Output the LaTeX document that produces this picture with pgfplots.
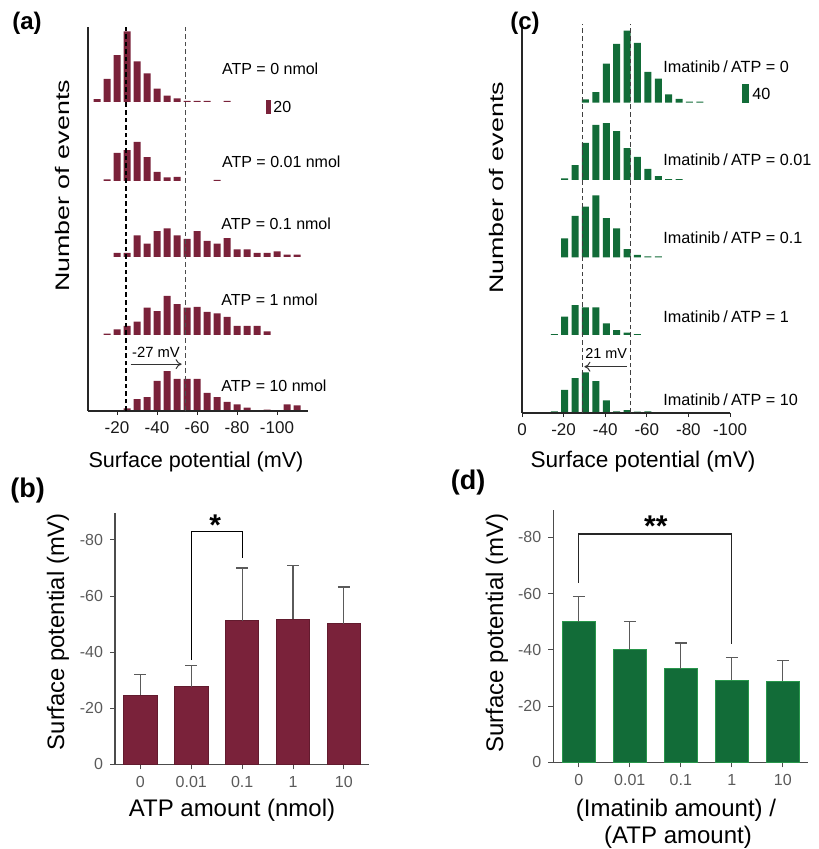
\documentclass[border=0pt]{standalone}
\usepackage{fontspec}
\setmainfont{Liberation Sans}
\usepackage{graphicx}
\usepackage{pgfplots}
\usepackage{pgfplotstable}
\pgfplotsset{compat=1.18}
\usetikzlibrary{arrows.meta}

\definecolor{wine}{RGB}{122,34,58}
\definecolor{leaf}{RGB}{18,108,56}
\definecolor{leafedge}{RGB}{40,150,75}
\definecolor{tickgray}{RGB}{90,90,90}
\newcommand{\fs}[1]{\fontsize{#1}{#1}\selectfont}

% (a) histograms: bin centre (mV), number of events
\pgfplotstableread{
mv n
-10 4
-15 33
-20 67
-25 101
-30 58
-35 41
-40 19
-45 9
-50 5
-55 1.5
-60 1.5
-65 1.5
-75 1.5
}\atpA
\pgfplotstableread{
mv n
-15 2.4
-20 40
-25 44
-30 56
-35 34
-40 13
-45 5
-50 6
-70 1.5
}\atpB
\pgfplotstableread{
mv n
-20 6
-25 6
-30 31
-35 19
-40 37
-45 41
-50 31
-55 26
-60 37
-65 23
-70 19
-75 27
-80 11
-85 11
-90 6
-95 6
-100 8
-105 3.3
-110 3.3
}\atpC
\pgfplotstableread{
mv n
-15 1.9
-20 8
-25 13
-30 19
-35 39
-40 34
-45 56
-50 44
-55 39
-60 40
-65 33
-70 31
-75 26
-80 13
-85 13
-90 13
-95 5
}\atpD
\pgfplotstableread{
mv n
-25 3.8
-30 17
-35 20
-40 43
-45 57
-50 46
-55 46
-60 46
-65 26
-70 20
-75 13
-80 9.5
-85 4.8
-95 1.9
-105 9.5
-110 8
}\atpE

% (c) histograms
\pgfplotstableread{
mv n
-30.5 7
-35.5 22
-40.5 81
-45.5 122
-50.5 149
-55.5 124
-60.5 64
-65.5 50
-70.5 17
-75.5 8
-80.5 2
-85.5 2
}\imaA
\pgfplotstableread{
mv n
-20.5 3.5
-25.5 31
-30.5 77
-35.5 114
-40.5 118
-45.5 101
-50.5 66
-55.5 48
-60.5 23
-65.5 8
-70.5 2
-75.5 2
}\imaB
\pgfplotstableread{
mv n
-20.5 39
-25.5 86
-30.5 105
-35.5 128
-40.5 81
-45.5 60
-50.5 17
-55.5 5
-60.5 2
-65.5 2
}\imaC
\pgfplotstableread{
mv n
-15.5 2
-20.5 38
-25.5 62
-30.5 57
-35.5 57
-40.5 24
-45.5 10
-50.5 5
-55.5 2
}\imaD
\pgfplotstableread{
mv n
-15.5 3.5
-20.5 48
-25.5 72
-30.5 84
-35.5 66
-40.5 26
-45.5 3.5
-50.5 6
-55.5 3
-60.5 3.5
}\imaE

% (b), (d) mean surface potential (mV) and SD
\pgfplotstableread{
cat v err
0 -24.7 7.3
1 -27.6 7.7
2 -51.2 18.8
3 -51.7 19.1
4 -50.2 13.0
}\barsB
\pgfplotstableread{
cat v err
0 -49.9 9.0
1 -40.0 10.0
2 -33.2 9.2
3 -29.1 8.2
4 -28.9 7.2
}\barsD

\pgfplotsset{
  hist/.style={scale only axis, hide axis, clip=false, anchor=south west,
    ybar, bar width=3.5pt, ymin=0, x filter/.expression={-x}},
  histA/.style={hist, x=1pt, y=0.35pt, xmin=5.5, xmax=115.5, ymax=110},
  histC/.style={hist, x=1.04pt, y=0.2415pt, xmin=0, xmax=100, ymax=160},
  frame/.style={scale only axis, anchor=south west, clip=false,
    ymin=0, ymax=1, ytick=\empty, x filter/.expression={-x},
    axis x line*=bottom, axis y line*=left,
    axis line style={line width=0.6pt, black!85},
    tick align=outside, major tick length=2pt,
    tick style={black!85, line width=0.5pt},
    xticklabel style={font=\fs{8.5}, text=black!90}},
  meanbars/.style={scale only axis, anchor=south west, clip=false,
    xmin=-0.5, xmax=4.5, ymin=0, ymax=89.7,
    axis x line*=bottom, axis y line*=left,
    axis line style={line width=0.6pt, black!70},
    tick align=outside, major tick length=2.5pt,
    tick style={black!70, line width=0.5pt},
    xtick={0,...,4}, xticklabels={0,0.01,0.1,1,10},
    ytick={0,20,40,60,80}, yticklabels={0,-20,-40,-60,-80},
    ticklabel style={font=\fs{8}, text=tickgray},
    ybar, bar width=16.7pt},
  errs/.style={error bars/.cd, y dir=plus, y explicit,
    error bar style={tickgray, line width=0.6pt},
    error mark options={tickgray, line width=0.6pt, mark size=3pt, rotate=90}},
}

\begin{document}
\begin{tikzpicture}
\useasboundingbox (0,0) rectangle (409pt,-424.5pt);

% ---------- (a)
\begin{axis}[histA, at={(44pt,-51pt)}]
\addplot[fill=wine, draw=none] table {\atpA};
\fill[wine] (axis cs:94.4,-17.1) rectangle (axis cs:96.9,2.9);
\end{axis}
\begin{axis}[histA, at={(44pt,-90.5pt)}]
\addplot[fill=wine, draw=none] table {\atpB};
\end{axis}
\begin{axis}[histA, at={(44pt,-128.5pt)}]
\addplot[fill=wine, draw=none] table {\atpC};
\end{axis}
\begin{axis}[histA, at={(44pt,-167.5pt)}]
\addplot[fill=wine, draw=none] table {\atpD};
\end{axis}
\begin{axis}[histA, at={(44pt,-205.5pt)}]
\addplot[fill=wine, draw=none] table {\atpE};
\end{axis}
\begin{axis}[frame, at={(44pt,-205.5pt)}, width=110pt, height=192pt,
  xmin=5.5, xmax=115.5, xtick={20,40,60,80,100},
  xticklabels={-20,-40,-60,-80,-100}]
\addplot[black, line width=0.7pt, dash pattern=on 2.3pt off 1.5pt]
  coordinates {(-24.5,0) (-24.5,1)};
\addplot[black!70, line width=0.45pt, dash pattern=on 2.3pt off 1.5pt]
  coordinates {(-54.3,0) (-54.3,1)};
\draw[-{To[length=3pt,width=5pt]}, black!80, line width=0.5pt]
  (axis cs:26.8,0.122) -- (axis cs:52.3,0.122);
\node[font=\fs{7.4}] at (axis cs:39.5,0.154) {-27 mV};
\end{axis}

% ---------- (c)
\begin{axis}[histC, at={(261pt,-51.35pt)}]
\addplot[fill=leaf, draw=none] table {\imaA};
\fill[leaf] (axis cs:105.8,-1.2) rectangle (axis cs:108.9,38.7);
\end{axis}
\begin{axis}[histC, at={(261pt,-90pt)}]
\addplot[fill=leaf, draw=none] table {\imaB};
\end{axis}
\begin{axis}[histC, at={(261pt,-128.65pt)}]
\addplot[fill=leaf, draw=none] table {\imaC};
\end{axis}
\begin{axis}[histC, at={(261pt,-167.5pt)}]
\addplot[fill=leaf, draw=none] table {\imaD};
\end{axis}
\begin{axis}[histC, at={(261pt,-206.5pt)}]
\addplot[fill=leaf, draw=none] table {\imaE};
\end{axis}
\begin{axis}[frame, at={(261pt,-206.5pt)}, width=104pt, height=194.5pt,
  xmin=0, xmax=100, xtick={0,20,40,60,80,100},
  xticklabels={0,-20,-40,-60,-80,-100}]
\addplot[black!75, line width=0.5pt, dash pattern=on 2.3pt off 1.5pt]
  coordinates {(-29,0) (-29,1)};
\addplot[black!75, line width=0.5pt, dash pattern=on 2.3pt off 1.5pt]
  coordinates {(-52.2,0) (-52.2,1)};
\draw[-{To[length=3pt,width=5pt]}, black!80, line width=0.5pt]
  (axis cs:50.5,0.119) -- (axis cs:30,0.119);
\node[font=\fs{7.2}] at (axis cs:40.5,0.152) {21 mV};
\end{axis}

% ---------- (b)
\begin{axis}[meanbars, at={(57.5pt,-382.15pt)}, width=127.15pt, height=125.8pt]
\addplot[fill=wine, draw=wine!80!black, line width=0.4pt, errs]
  table[x=cat, y expr=-\thisrow{v}, y error=err] {\barsB};
\draw[black, line width=0.6pt] (axis cs:1,37.1) -- (axis cs:1,83)
  -- (axis cs:2,83) -- (axis cs:2,73.7);
\node[font=\fs{15}\bfseries] at (axis cs:1.47,85.2) {*};
\end{axis}

% ---------- (d)
\begin{axis}[meanbars, at={(276.65pt,-381.15pt)}, width=127.5pt, height=126.15pt]
\addplot[fill=leaf, draw=leafedge, line width=0.5pt, errs]
  table[x=cat, y expr=-\thisrow{v}, y error=err] {\barsD};
\draw[black!85, line width=0.6pt] (axis cs:0,63.8) -- (axis cs:0,81.2)
  -- (axis cs:3,81.2) -- (axis cs:3,42.1);
\node[font=\fs{15}\bfseries] at (axis cs:1.51,83.8) {**};
\end{axis}

% ---------- labels (pixel grid of the reference)
\begin{scope}[x=0.5pt, y=-0.5pt]
\node[font=\fs{12}\bfseries] at (27,23) {(a)};
\node[font=\fs{12}\bfseries] at (525,23) {(c)};
\node[font=\fs{13.5}\bfseries] at (27.5,491) {(b)};
\node[font=\fs{13.5}\bfseries] at (468,483) {(d)};

\node[rotate=90, font=\fs{9.8}] at (62,186) {\scalebox{1.37}[1]{Number of events}};
\node[rotate=90, font=\fs{9.8}] at (496,188) {\scalebox{1.37}[1]{Number of events}};
\node[font=\fs{10.8}] at (196,462) {Surface potential (mV)};
\node[font=\fs{11.3}] at (643,462) {Surface potential (mV)};

\begin{scope}[every node/.style={font=\fs{8}, anchor=west, inner sep=0pt}]
\node at (221.7,68.5) {ATP = 0 nmol};
\node at (221.7,161.5) {ATP = 0.01 nmol};
\node at (221,224) {ATP = 0.1 nmol};
\node at (221,300) {ATP = 1 nmol};
\node at (221,386) {ATP = 10 nmol};
\node at (273,107) {20};
\end{scope}

\begin{scope}[every node/.style={font=\fs{8.1}, anchor=west, inner sep=0pt}]
\node at (663,67) {Imatinib\hspace{0.2em}/\hspace{0.2em}ATP = 0};
\node at (663,160) {Imatinib\hspace{0.2em}/\hspace{0.2em}ATP = 0.01};
\node at (663,238) {Imatinib\hspace{0.2em}/\hspace{0.2em}ATP = 0.1};
\node at (663,317) {Imatinib\hspace{0.2em}/\hspace{0.2em}ATP = 1};
\node at (663,400) {Imatinib\hspace{0.2em}/\hspace{0.2em}ATP = 10};
\node at (752,94) {40};
\end{scope}

\node[rotate=90, font=\fs{11.9}] at (58,631.7) {Surface potential (mV)};
\node[font=\fs{12}] at (232,810) {ATP amount (nmol)};
\node[rotate=90, font=\fs{12}] at (497,633) {Surface potential (mV)};
\node[font=\fs{12}] at (676,810) {(Imatinib amount) /};
\node[font=\fs{12}] at (678,837) {(ATP amount)};
\end{scope}
\end{tikzpicture}
\end{document}
